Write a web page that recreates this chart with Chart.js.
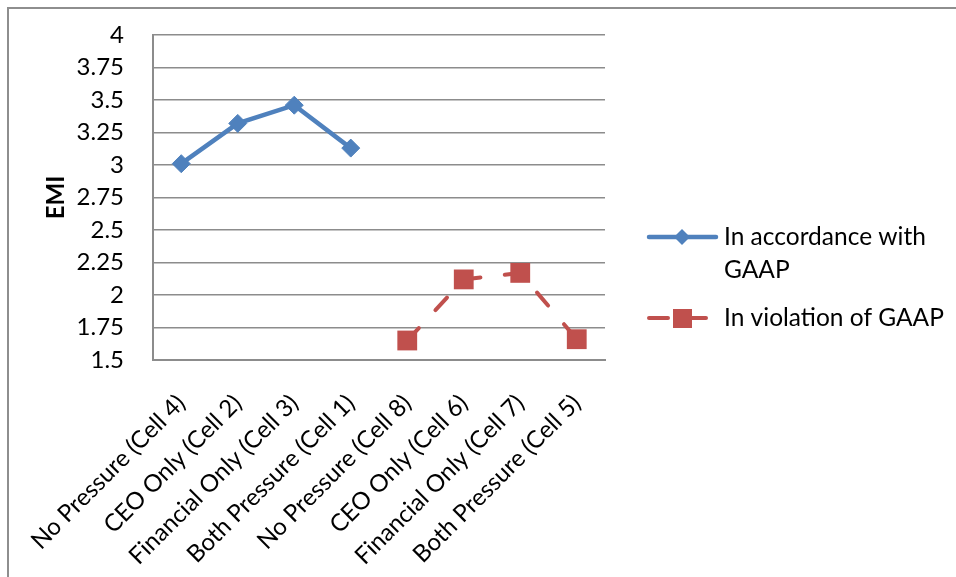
<!DOCTYPE html>
<html>
<head>
<meta charset="utf-8">
<title>EMI by condition</title>
<script src="https://cdn.jsdelivr.net/npm/chart.js@4.4.0/dist/chart.umd.min.js"></script>
<style>
  html, body { margin: 0; padding: 0; background: #fff; }
  #wrap { position: relative; width: 956px; height: 577px; overflow: hidden; }
  #frame {
    position: absolute; left: 7px; top: 7px; width: 1000px; height: 1000px;
    border-left: 2px solid #8e8e8e; border-top: 2px solid #8e8e8e;
  }
  #emi-chart { position: absolute; left: 0; top: 0; }
</style>
</head>
<body>
<div id="wrap">
  <div id="frame"></div>
  <canvas id="emi-chart" width="956" height="577"></canvas>
</div>
<script>
// ---------------------------------------------------------------------------
// Data
// ---------------------------------------------------------------------------

const categories = [
  'No Pressure (Cell 4)',
  'CEO Only (Cell 2)',
  'Financial Only (Cell 3)',
  'Both Pressure (Cell 1)',
  'No Pressure (Cell 8)',
  'CEO Only (Cell 6)',
  'Financial Only (Cell 7)',
  'Both Pressure (Cell 5)',
];

const gaapValues      = [3.01, 3.32, 3.46, 3.13, null, null, null, null];
const violationValues = [null, null, null, null, 1.65, 2.12, 2.17, 1.66];

const yTicks = [1.5, 1.75, 2, 2.25, 2.5, 2.75, 3, 3.25, 3.5, 3.75, 4];

// legend text, already broken into lines
const legendLines = [
  ['In accordance with', 'GAAP'],
  ['In violation of GAAP'],
];

const BLUE = '#4f81bd';
const RED  = '#c0504d';
const GRID = '#8c8c8c';
const FONT = 'Lato, "Open Sans", sans-serif';

// ---------------------------------------------------------------------------
// Legend on the right, drawn by hand so the first entry can wrap
// ---------------------------------------------------------------------------

const sideLegend = {
  id: 'sideLegend',
  afterDraw(chart) {
    const ctx = chart.ctx;
    ctx.save();
    ctx.lineCap = 'round';

    // entry 1: solid line with diamond
    let y = 237;
    ctx.strokeStyle = BLUE;
    ctx.lineWidth = 4.5;
    ctx.beginPath();
    ctx.moveTo(649, y);
    ctx.lineTo(716, y);
    ctx.stroke();
    ctx.fillStyle = BLUE;
    ctx.beginPath();
    ctx.moveTo(682 - 8, y);
    ctx.lineTo(682, y - 8);
    ctx.lineTo(682 + 8, y);
    ctx.lineTo(682, y + 8);
    ctx.closePath();
    ctx.fill();

    // entry 2: dash, square, dash
    y = 318;
    ctx.strokeStyle = RED;
    ctx.lineWidth = 4;
    ctx.beginPath();
    ctx.moveTo(649, y);
    ctx.lineTo(668, y);
    ctx.moveTo(692, y);
    ctx.lineTo(706, y);
    ctx.stroke();
    ctx.fillStyle = RED;
    ctx.fillRect(673, y - 9, 19, 19);

    ctx.fillStyle = '#000';
    ctx.font = '24.5px ' + FONT;
    ctx.textBaseline = 'middle';
    ctx.fillText(legendLines[0][0], 724, 237);
    ctx.fillText(legendLines[0][1], 724, 270);
    ctx.fillText(legendLines[1][0], 724, 318);
    ctx.restore();
  },
};

// ---------------------------------------------------------------------------
// Chart
// ---------------------------------------------------------------------------

const chart = new Chart(document.getElementById('emi-chart'), {
  type: 'line',
  data: {
    labels: categories,
    datasets: [
      {
        label: legendLines[0].join(' '),
        data: gaapValues,
        borderColor: BLUE,
        backgroundColor: BLUE,
        borderWidth: 4.5,
        pointStyle: 'rectRot',
        pointRadius: 9,
        pointBorderWidth: 1,
        spanGaps: false,
        tension: 0,
      },
      {
        label: legendLines[1].join(' '),
        data: violationValues,
        borderColor: RED,
        backgroundColor: RED,
        borderWidth: 4,
        borderDash: [17, 24.5],
        borderCapStyle: 'round',
        pointStyle: 'rect',
        pointRadius: 14,
        pointBorderWidth: 0,
        spanGaps: false,
        tension: 0,
      },
    ],
  },
  options: {
    responsive: false,
    animation: false,
    layout: { padding: { left: 42, top: 35, right: 351, bottom: 0 } },
    plugins: {
      legend: { display: false },
      tooltip: { enabled: false },
    },
    scales: {
      x: {
        offset: true,
        grid: { display: false },
        border: { display: true, color: GRID, width: 2 },
        ticks: {
          autoSkip: false,
          minRotation: 45,
          maxRotation: 45,
          padding: 21,
          color: '#000',
          font: { family: FONT, size: 24 },
        },
        afterFit: s => { s.height = 577 - 360; },
      },
      y: {
        min: 1.5,
        max: 4,
        grid: { color: GRID, lineWidth: 1.5, tickLength: 29, tickColor: 'rgba(0,0,0,0)' },
        border: { display: true, color: GRID, width: 2 },
        title: {
          display: true,
          text: 'EMI',
          color: '#000',
          padding: 0,
          font: { family: FONT, size: 24, weight: 'bold' },
        },
        ticks: {
          padding: 0,
          color: '#000',
          font: { family: FONT, size: 24 },
          callback: v => String(v),
        },
        afterBuildTicks: s => { s.ticks = yTicks.map(v => ({ value: v })); },
        afterFit: s => { s.width = 153 - 42; },
      },
    },
  },
  plugins: [sideLegend],
});
</script>
</body>
</html>
